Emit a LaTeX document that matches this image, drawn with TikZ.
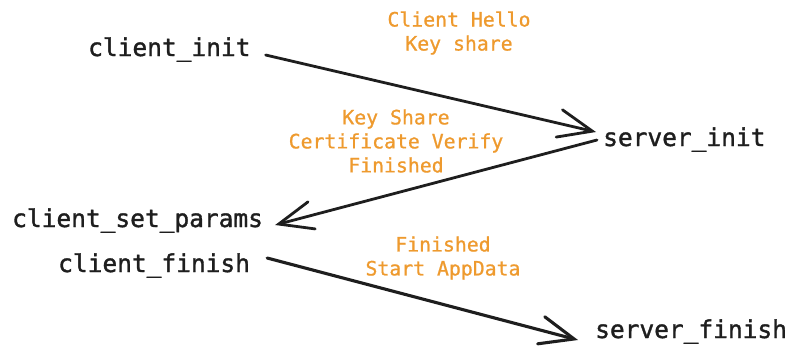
\documentclass[tikz,border=0pt]{standalone}
\usepackage{fontspec}
\newfontfamily\statefont[FakeBold=1.4]{DejaVu Sans Mono}
\newfontfamily\msgfont[FakeBold=0.9]{DejaVu Sans Mono}
\usetikzlibrary{arrows.meta,calc}
\definecolor{ink}{HTML}{1E1E1E}
\definecolor{msgorange}{HTML}{EE9A2E}
\begin{document}
\begin{tikzpicture}[x=1pt,y=-1pt,
  state/.style={inner sep=0pt,anchor=base west,text=ink,
    font=\statefont\fontsize{24.5}{28}\selectfont},
  msg/.style={inner sep=0pt,align=center,text=msgorange,
    font=\msgfont\fontsize{19.8}{24}\selectfont},
  flow/.style={draw=ink,line width=2.8pt,line cap=round,
    -{Straight Barb[length=34pt,width=28pt,line cap=round]}}]
\useasboundingbox (0,0) rectangle (792,346);

% states of the handshake
\node[state] (client_init) at (88,56) {client\_init};
\node[state] (server_init) at (603,146) {server\_init};
\node[state] (client_set_params) at (12,227) {client\_set\_params};
\node[state] (client_finish) at (58,272) {client\_finish};
\node[state] (server_finish) at (595,338) {server\_finish};

% messages exchanged
\node[msg] (m1) at (459,33) {Client Hello\\Key share};
\node[msg] (m2) at (396,141) {Key Share\\Certificate Verify\\Finished};
\node[msg] (m3) at (443,258) {Finished\\Start AppData};

% transitions
\draw[flow] ($(client_init.base east)+(15,-1)$) -- ($(server_init.base west)+(-7,-14)$);
\draw[flow] ($(server_init.base west)+(-6,-6)$) -- ($(client_set_params.base east)+(12,-2)$);
\draw[flow,line width=3.1pt] ($(client_finish.base east)+(17,-14)$) -- ($(server_finish.base west)+(-17,2)$);
\end{tikzpicture}
\end{document}
